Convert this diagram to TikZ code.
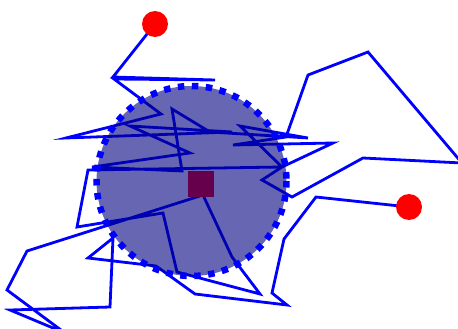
\documentclass[tikz,border=0pt]{standalone}
\begin{document}
\begin{tikzpicture}[x=1pt,y=-1pt,
  walk/.style={draw=blue,line width=2.8pt},
  blob/.style={draw=blue,line width=6.5pt,dash pattern=on 6.5pt off 7.5pt,fill=blue!50!black,fill opacity=0.6,draw opacity=1},
  reddot/.style={circle,fill=red,inner sep=0pt,minimum size=26pt},
  marker/.style={fill=red}]
\useasboundingbox (0,0) rectangle (458,329);
\clip (0,0) rectangle (458,329);
\coordinate (s) at (155,24);
\coordinate (e) at (409,207);
\draw[walk] (s) -- (113,77) -- (215,80) -- (114,79) -- (161,114) -- (66,138)
  -- (232,132) -- (130,126) -- (190,153) -- (92,167) -- (182,171) -- (172,109)
  -- (210,132) -- (308,138) -- (240,126) -- (282,167) -- (262,180) -- (292,197)
  -- (363,158) -- (462,163) -- (368,52) -- (308,75) -- (286,137) -- (233,145)
  -- (333,143) -- (282,167) -- (88,170) -- (77,227) -- (163,213) -- (177,272)
  -- (260,294) -- (232,257) -- (203,195) -- (27,251) -- (7,290) -- (65,333)
  -- (10,310) -- (110,307) -- (113,238) -- (88,258) -- (156,266) -- (195,294)
  -- (287,305) -- (272,293) -- (284,239) -- (316,197) -- (e);
\fill[marker] (188,171) rectangle (214,197);
\draw[blob] (191.5,181) circle[radius=95];
\node[reddot] (start) at (s) {};
\node[reddot] (end) at (e) {};
\end{tikzpicture}
\end{document}
